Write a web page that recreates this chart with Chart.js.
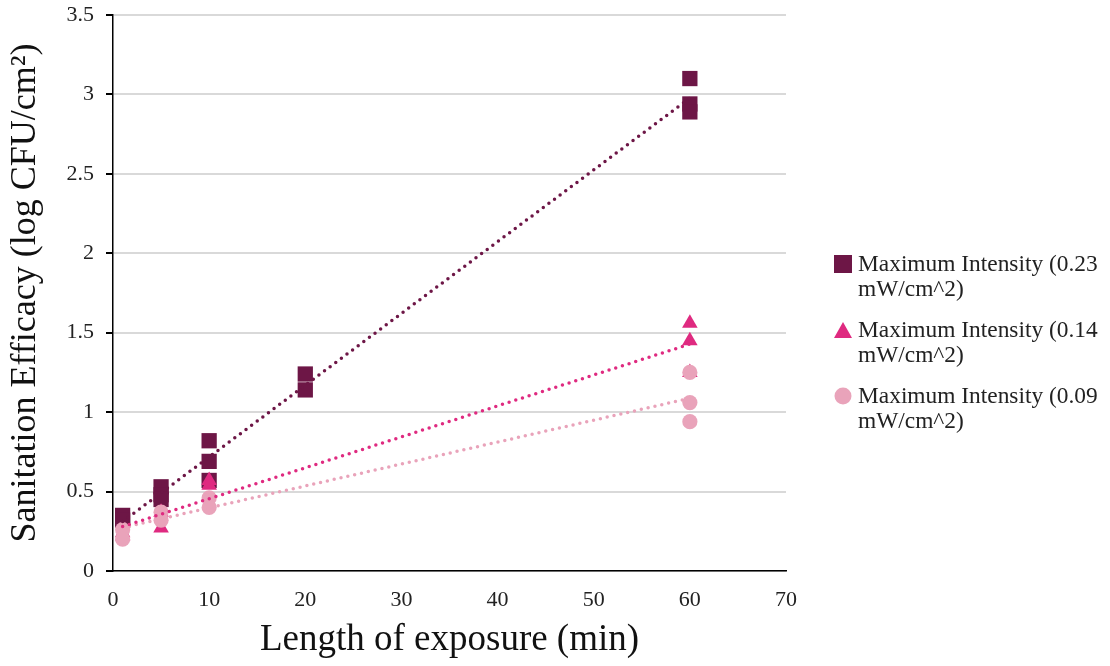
<!DOCTYPE html>
<html>
<head>
<meta charset="utf-8">
<script src="https://cdn.jsdelivr.net/npm/chart.js@4.4.1/dist/chart.umd.min.js"></script>
<style>
    html, body { margin: 0; padding: 0; background: #fff; overflow: hidden; }
    .wrap { position: relative; width: 1110px; height: 666px; overflow: hidden; }
    .leyenda { position: absolute; left: 834px; top: 251px; font-family: 'Liberation Serif', 'Times New Roman', serif; font-size: 23.4px; color: #222; white-space: nowrap; }
    .item { position: relative; padding-left: 24px; line-height: 25px; margin-bottom: 16px; }
    .mk { position: absolute; left: 0; top: 4px; width: 18px; height: 18px; }
</style>
</head>
<body>
<div class="wrap">
    <canvas id="graficaEficacia" width="1110" height="666"></canvas>
    <div class="leyenda" id="leyenda"></div>
</div>
<script>
// Datos
const nombresSeries = [
    'Maximum Intensity (0.23 mW/cm^2)',
    'Maximum Intensity (0.14 mW/cm^2)',
    'Maximum Intensity (0.09 mW/cm^2)'
];
const coloresSeries = ['#6d1646', '#df2a80', '#e9a3ba'];

const tiempoAlta = [1, 1, 5, 5, 5, 10, 10, 10, 20, 20, 60, 60, 60];
const eficaciaAlta = [0.35, 0.32, 0.53, 0.48, 0.45, 0.82, 0.69, 0.57, 1.24, 1.14, 3.10, 2.94, 2.89];

const tiempoMedia = [1, 1, 5, 5, 10, 10, 60, 60, 60];
const eficaciaMedia = [0.24, 0.22, 0.27, 0.37, 0.57, 0.54, 1.56, 1.45, 1.25];

const tiempoBaja = [1, 1, 5, 5, 10, 10, 60, 60, 60];
const eficaciaBaja = [0.26, 0.20, 0.37, 0.32, 0.46, 0.40, 1.25, 1.06, 0.94];

const ticksX = [0, 10, 20, 30, 40, 50, 60, 70];
const ticksY = [0, 0.5, 1, 1.5, 2, 2.5, 3, 3.5];

const fuente = "'Liberation Serif', 'Times New Roman', serif";

function puntos(xs, ys) {
    return xs.map((x, i) => ({ x: x, y: ys[i] }));
}

// Línea de tendencia lineal (mínimos cuadrados), como en Excel
function tendencia(xs, ys) {
    const n = xs.length;
    const mx = xs.reduce((a, b) => a + b, 0) / n;
    const my = ys.reduce((a, b) => a + b, 0) / n;
    let sxy = 0, sxx = 0;
    xs.forEach((x, i) => { sxy += (x - mx) * (ys[i] - my); sxx += (x - mx) * (x - mx); });
    const m = sxy / sxx;
    const b = my - m * mx;
    const x0 = Math.min(...xs), x1 = Math.max(...xs);
    return [{ x: x0, y: m * x0 + b }, { x: x1, y: m * x1 + b }];
}

function serieTendencia(xs, ys, color) {
    return {
        type: 'line',
        data: tendencia(xs, ys),
        borderColor: color,
        borderWidth: 3.5,
        borderDash: [0, 7],
        borderCapStyle: 'round',
        pointRadius: 0,
        fill: false,
        order: 0
    };
}

const ctx = document.getElementById('graficaEficacia');

new Chart(ctx, {
    type: 'scatter',
    data: {
        datasets: [
            {
                label: nombresSeries[0],
                data: puntos(tiempoAlta, eficaciaAlta),
                backgroundColor: coloresSeries[0],
                borderWidth: 0,
                pointStyle: 'rect',
                pointRadius: 10.8,
                order: 3
            },
            {
                label: nombresSeries[1],
                data: puntos(tiempoMedia, eficaciaMedia),
                backgroundColor: coloresSeries[1],
                borderWidth: 0,
                pointStyle: 'triangle',
                pointRadius: 9,
                order: 2
            },
            {
                label: nombresSeries[2],
                data: puntos(tiempoBaja, eficaciaBaja),
                backgroundColor: coloresSeries[2],
                borderWidth: 0,
                pointStyle: 'circle',
                pointRadius: 7.6,
                order: 1
            },
            serieTendencia(tiempoAlta, eficaciaAlta, coloresSeries[0]),
            serieTendencia(tiempoMedia, eficaciaMedia, coloresSeries[1]),
            serieTendencia(tiempoBaja, eficaciaBaja, coloresSeries[2])
        ]
    },
    options: {
        responsive: false,
        animation: false,
        layout: { padding: { left: 0, right: 324, top: 15, bottom: 0 } },
        plugins: {
            legend: { display: false },
            tooltip: { enabled: false }
        },
        scales: {
            x: {
                type: 'linear',
                min: 0,
                max: 70,
                afterBuildTicks: s => { s.ticks = ticksX.map(v => ({ value: v })); },
                afterFit: s => { s.height = 95; s.paddingLeft = 0; s.paddingRight = 0; },
                border: { color: '#000', width: 1.5 },
                grid: { display: false, drawOnChartArea: false, drawTicks: true, tickLength: 7, tickColor: '#000' },
                ticks: { color: '#222', font: { family: fuente, size: 22 }, padding: 9, callback: v => String(v) },
                title: {
                    display: true,
                    text: 'Length of exposure (min)',
                    color: '#111',
                    font: { family: fuente, size: 37 },
                    padding: { top: 4 }
                }
            },
            y: {
                type: 'linear',
                min: 0,
                max: 3.5,
                afterBuildTicks: s => { s.ticks = ticksY.map(v => ({ value: v })); },
                afterFit: s => { s.width = 113; s.paddingTop = 0; s.paddingBottom = 0; },
                border: { color: '#000', width: 1.5 },
                grid: { color: '#d9d9d9', lineWidth: 2, drawTicks: true, tickLength: 7, tickColor: '#000' },
                ticks: { color: '#222', font: { family: fuente, size: 22 }, padding: 12, callback: v => String(v) },
                title: {
                    display: true,
                    text: 'Sanitation Efficacy (log CFU/cm²)',
                    color: '#111',
                    font: { family: fuente, size: 36 },
                    padding: { top: 4, bottom: 10 }
                }
            }
        }
    }
});

// Leyenda en HTML (texto partido en dos líneas como en el original)
const formas = [
    '<svg class="mk" viewBox="0 0 18 18"><rect x="0" y="0" width="18" height="18" fill="COLOR"/></svg>',
    '<svg class="mk" viewBox="0 0 18 18"><polygon points="9,1 18,17 0,17" fill="COLOR"/></svg>',
    '<svg class="mk" viewBox="0 0 18 18"><circle cx="9" cy="9" r="8.5" fill="COLOR"/></svg>'
];
const leyenda = document.getElementById('leyenda');
nombresSeries.forEach((nombre, i) => {
    const partes = nombre.split(' mW');
    const div = document.createElement('div');
    div.className = 'item';
    div.innerHTML = formas[i].replace('COLOR', coloresSeries[i]) + partes[0] + '<br>mW' + partes[1];
    leyenda.appendChild(div);
});
</script>
</body>
</html>
